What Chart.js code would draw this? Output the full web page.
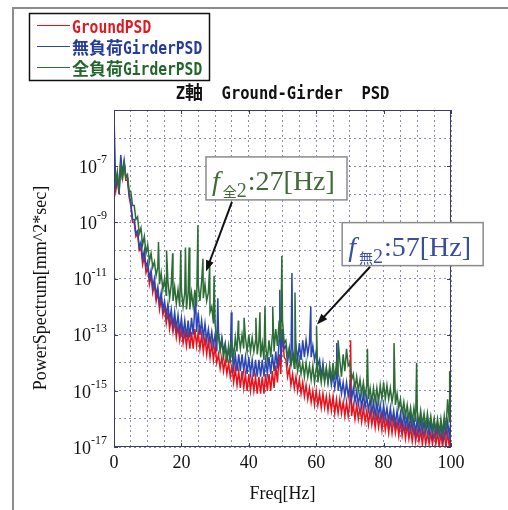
<!DOCTYPE html>
<html>
<head>
<meta charset="utf-8">
<script src="https://cdn.jsdelivr.net/npm/chart.js@4.4.1/dist/chart.umd.min.js"></script>
<style>
    html, body { margin: 0; padding: 0; background: #fff; }
    #psd { display: block; }
</style>
</head>
<body>
<canvas id="psd" width="508" height="510"></canvas>
<script>
// sample frequencies [Hz], one per Hz
const freqHz = Array.from({length: 101}, (_, i) => i);

// band envelopes, as log10 of PSD (hi at f, lo at f+0.5)
const groundHi = [
    -7.5, -7.4, -6.8, -6.9, -7.5, -8.4, -9.0, -9.4, -9.9, -10.2,
    -10.6, -10.9, -11.2, -11.5, -11.7, -12.0, -12.2, -12.4, -12.5, -12.7,
    -12.8, -12.9, -12.9, -12.9, -12.8, -12.9, -13.0, -13.1, -13.2, -13.3,
    -13.4, -13.7, -13.8, -13.9, -14.0, -14.1, -14.2, -14.3, -14.3, -14.4,
    -14.4, -14.5, -14.5, -14.5, -14.5, -14.4, -14.4, -14.3, -14.1, -13.7,
    -13.0, -13.9, -14.2, -14.4, -14.5, -14.6, -14.7, -14.8, -14.9, -15.0,
    -15.0, -15.1, -15.1, -15.2, -15.2, -15.2, -15.3, -15.3, -15.4, -15.4,
    -15.4, -15.5, -15.5, -15.6, -15.6, -15.7, -15.7, -15.8, -15.8, -15.9,
    -15.9, -16.0, -16.0, -16.0, -16.1, -16.1, -16.2, -16.2, -16.3, -16.3,
    -16.4, -16.4, -16.4, -16.5, -16.5, -16.5, -16.5, -16.5, -16.5, -16.5, -16.5
];
const groundLo = [
    -7.9, -8.0, -7.4, -7.5, -8.1, -9.0, -9.5, -10.0, -10.5, -10.8,
    -11.2, -11.5, -11.8, -12.1, -12.3, -12.6, -12.8, -12.9, -13.1, -13.2,
    -13.3, -13.4, -13.5, -13.5, -13.4, -13.5, -13.6, -13.7, -13.8, -13.9,
    -14.0, -14.2, -14.3, -14.4, -14.5, -14.7, -14.8, -14.9, -14.9, -15.0,
    -15.0, -15.0, -15.1, -15.1, -15.1, -15.0, -15.0, -14.9, -14.7, -14.4,
    -13.8, -14.5, -14.8, -14.9, -15.0, -15.1, -15.2, -15.3, -15.4, -15.5,
    -15.5, -15.6, -15.6, -15.7, -15.7, -15.8, -15.8, -15.8, -15.9, -15.9,
    -15.9, -16.0, -16.0, -16.1, -16.1, -16.2, -16.2, -16.3, -16.3, -16.4,
    -16.4, -16.5, -16.5, -16.5, -16.6, -16.6, -16.7, -16.7, -16.8, -16.8,
    -16.8, -16.9, -16.9, -16.9, -16.9, -16.9, -17.0, -17.0, -17.0, -17.0
];
const unloadedHi = [
    -5.1, -7.3, -6.6, -6.8, -7.4, -8.3, -8.9, -9.3, -9.7, -10.0,
    -10.4, -10.7, -11.0, -11.3, -11.5, -11.8, -11.9, -12.1, -12.2, -12.3,
    -12.4, -12.5, -12.5, -12.4, -12.0, -12.2, -12.5, -12.6, -12.8, -12.9,
    -13.0, -12.9, -13.1, -13.3, -13.5, -13.6, -13.7, -13.7, -13.7, -13.8,
    -13.8, -13.9, -13.9, -13.9, -13.9, -13.9, -13.8, -13.7, -13.6, -13.2,
    -12.8, -13.4, -13.5, -13.5, -13.4, -13.3, -13.2, -13.2, -13.3, -13.4,
    -13.6, -13.9, -14.0, -14.2, -14.3, -14.4, -14.5, -14.6, -14.7, -14.7,
    -14.8, -14.9, -15.0, -15.1, -15.1, -15.2, -15.3, -15.4, -15.4, -15.5,
    -15.5, -15.6, -15.6, -15.7, -15.7, -15.8, -15.8, -15.9, -15.9, -16.0,
    -16.0, -16.0, -16.1, -16.1, -16.1, -16.1, -16.2, -16.2, -16.1, -16.1, -16.0
];
const unloadedLo = [
    -7.8, -8.0, -7.3, -7.4, -8.0, -8.9, -9.4, -9.9, -10.3, -10.6,
    -11.0, -11.3, -11.6, -11.9, -12.1, -12.3, -12.5, -12.7, -12.8, -12.9,
    -13.0, -13.1, -13.1, -13.0, -12.9, -13.0, -13.1, -13.2, -13.3, -13.4,
    -13.6, -13.5, -13.6, -13.8, -14.0, -14.2, -14.3, -14.3, -14.3, -14.4,
    -14.4, -14.5, -14.5, -14.5, -14.5, -14.4, -14.4, -14.3, -14.2, -13.9,
    -13.5, -14.0, -14.1, -14.0, -13.9, -13.9, -13.8, -13.7, -13.8, -13.9,
    -14.1, -14.5, -14.6, -14.7, -14.8, -14.9, -15.0, -15.1, -15.2, -15.2,
    -15.3, -15.4, -15.5, -15.6, -15.6, -15.7, -15.8, -15.9, -15.9, -16.0,
    -16.0, -16.1, -16.1, -16.2, -16.2, -16.3, -16.3, -16.4, -16.4, -16.5,
    -16.5, -16.5, -16.5, -16.6, -16.6, -16.6, -16.6, -16.7, -16.6, -16.6
];
const loadedHi = [
    -7.0, -7.2, -6.9, -6.8, -7.3, -7.9, -8.4, -8.8, -9.2, -9.5,
    -9.8, -10.1, -10.4, -10.6, -10.8, -11.0, -11.1, -11.2, -11.3, -11.4,
    -11.4, -11.5, -11.5, -11.5, -11.4, -11.2, -11.1, -11.2, -11.5, -12.0,
    -12.6, -13.0, -13.2, -13.4, -13.4, -13.3, -13.1, -13.0, -13.0, -13.1,
    -13.0, -13.1, -13.2, -13.2, -13.3, -13.4, -13.2, -13.0, -12.8, -12.5,
    -12.5, -13.2, -13.5, -13.7, -13.8, -13.9, -14.0, -14.0, -14.1, -14.1,
    -14.2, -14.2, -14.2, -14.2, -14.1, -14.0, -14.0, -13.9, -13.7, -13.5,
    -14.0, -14.4, -14.5, -14.6, -14.7, -14.8, -14.9, -14.9, -14.9, -14.8,
    -14.7, -14.8, -14.9, -15.0, -15.1, -15.3, -15.4, -15.5, -15.6, -15.6,
    -15.7, -15.7, -15.8, -15.8, -15.9, -16.0, -16.0, -16.0, -15.9, -15.3, -14.8
];
const loadedLo = [
    -7.6, -7.9, -7.5, -7.4, -7.9, -8.4, -8.9, -9.4, -9.8, -10.1,
    -10.4, -10.6, -10.9, -11.2, -11.4, -11.6, -11.7, -11.8, -11.9, -12.0,
    -12.0, -12.1, -12.1, -12.0, -12.0, -11.8, -11.7, -11.8, -12.2, -12.6,
    -13.2, -13.6, -13.8, -14.0, -13.9, -13.8, -13.6, -13.5, -13.5, -13.6,
    -13.6, -13.6, -13.7, -13.8, -13.9, -13.9, -13.8, -13.6, -13.4, -13.2,
    -13.3, -13.8, -14.1, -14.2, -14.3, -14.4, -14.5, -14.5, -14.6, -14.7,
    -14.7, -14.7, -14.7, -14.7, -14.6, -14.6, -14.5, -14.5, -14.3, -14.1,
    -14.6, -14.9, -15.0, -15.1, -15.2, -15.3, -15.4, -15.4, -15.4, -15.3,
    -15.3, -15.3, -15.4, -15.5, -15.6, -15.8, -15.9, -16.0, -16.1, -16.1,
    -16.2, -16.2, -16.3, -16.3, -16.4, -16.4, -16.5, -16.5, -16.4, -16.1
];

// narrow peaks [Hz, log10 PSD]
const groundSpikes = [[49.9, -12.8], [70.2, -13.2]];
const unloadedSpikes = [
    [24.2, -11.7], [30.8, -11.7], [34.8, -12.2], [49.2, -11.4], [52.8, -10.8],
    [58.4, -12.0], [66.1, -13.3]
];
const loadedSpikes = [
    [13.2, -9.7], [15.6, -10.0], [17.4, -10.1], [19.8, -10.0], [21.2, -9.9],
    [22.3, -9.9], [24.9, -9.1], [26.4, -10.3], [28.4, -10.5], [29.7, -10.9],
    [36.9, -12.5], [38.6, -12.4], [42.1, -12.4], [43.3, -12.2], [44.8, -12.0],
    [47.1, -12.0], [49.8, -10.2], [53.7, -11.5], [60.1, -12.7], [66.5, -13.2],
    [75.2, -13.5], [83.1, -13.3], [89.8, -14.0], [99.6, -14.3]
];

const xTickLabels = [0, 20, 40, 60, 80, 100];
const yTickExps = [-7, -9, -11, -13, -15, -17];

function band(hi, lo, spikes) {
    const pts = [];
    freqHz.forEach((f, i) => {
        pts.push({x: f, y: Math.pow(10, hi[i])});
        if (i < lo.length) pts.push({x: f + 0.5, y: Math.pow(10, lo[i])});
    });
    spikes.forEach(s => pts.push({x: s[0], y: Math.pow(10, s[1])}));
    return pts.sort((a, b) => a.x - b.x);
}

const RED = '#e8121c', BLUE = '#2a46b2', GREEN = '#2c6d36';

// text boxes with arrows, placed in data coordinates
const notes = [
    {sym: '全', val: ':27[Hz]', color: '#3f6c36', box: [27.3, -6.67], tail: [35.0, -8.27], tip: [27.3, -10.75]},
    {sym: '無', val: ':57[Hz]', color: '#3a4d9e', box: [67.7, -9.01], tail: [76.0, -10.58], tip: [60.2, -12.64]}
];

// MS Gothic-ish text: narrow latin, full-width CJK
function gothic(ctx, text, x, y, size, color, draw) {
    let cx = x;
    const runs = text.match(/[\x00-\x7f]+|[^\x00-\x7f]+/g);
    ctx.fillStyle = color;
    ctx.textBaseline = 'alphabetic';
    ctx.textAlign = 'left';
    runs.forEach(r => {
        if (/^[\x00-\x7f]/.test(r)) {
            ctx.font = 'bold ' + size + 'px "DejaVu Sans Mono"';
            const w = ctx.measureText(r).width * 0.86;
            if (draw) {
                ctx.save();
                ctx.translate(cx, y);
                ctx.scale(0.86, 1);
                ctx.fillText(r, 0, 0);
                ctx.restore();
            }
            cx += w;
        } else {
            ctx.font = 'bold ' + size + 'px "Noto Sans CJK JP"';
            if (draw) ctx.fillText(r, cx, y);
            cx += ctx.measureText(r).width;
        }
    });
    return cx - x;
}

const decor = {
    id: 'decor',
    afterDraw(chart) {
        const ctx = chart.ctx, a = chart.chartArea, xs = chart.scales.x, ys = chart.scales.y;
        ctx.save();

        // outer picture frame
        ctx.strokeStyle = '#8c8c8c';
        ctx.lineWidth = 2;
        ctx.beginPath();
        ctx.moveTo(13, 510); ctx.lineTo(13, 8); ctx.lineTo(508, 8);
        ctx.stroke();

        // plot frame + inward ticks
        ctx.strokeStyle = '#3b3b6b';
        ctx.lineWidth = 1;
        ctx.strokeRect(a.left + 0.5, a.top + 0.5, a.right - a.left - 1, a.bottom - a.top - 1);
        ctx.beginPath();
        xTickLabels.forEach(v => {
            const px = Math.round(xs.getPixelForValue(v)) + 0.5;
            ctx.moveTo(px, a.bottom); ctx.lineTo(px, a.bottom - 4);
            ctx.moveTo(px, a.top); ctx.lineTo(px, a.top + 4);
        });
        yTickExps.forEach(e => {
            const py = Math.round(ys.getPixelForValue(Math.pow(10, e))) + 0.5;
            ctx.moveTo(a.left, py); ctx.lineTo(a.left + 4, py);
            ctx.moveTo(a.right, py); ctx.lineTo(a.right - 4, py);
        });
        ctx.stroke();

        // tick labels
        ctx.fillStyle = '#111';
        ctx.font = '18px "Liberation Serif"';
        ctx.textAlign = 'center';
        ctx.textBaseline = 'middle';
        xTickLabels.forEach(v => ctx.fillText(String(v), xs.getPixelForValue(v), a.bottom + 16));
        yTickExps.forEach(e => {
            const py = ys.getPixelForValue(Math.pow(10, e));
            ctx.font = '12px "Liberation Serif"';
            const ew = ctx.measureText(String(e)).width;
            ctx.textAlign = 'right';
            ctx.textBaseline = 'alphabetic';
            ctx.fillText(String(e), a.left - 7, py - 3);
            ctx.font = '18px "Liberation Serif"';
            ctx.textBaseline = 'middle';
            ctx.fillText('10', a.left - 7 - ew, py + 2);
        });

        // axis titles
        ctx.textAlign = 'center';
        ctx.textBaseline = 'middle';
        ctx.font = '18px "Liberation Serif"';
        ctx.fillText('Freq[Hz]', (a.left + a.right) / 2, 494);
        ctx.save();
        ctx.translate(41, 288);
        ctx.rotate(-Math.PI / 2);
        ctx.fillText('PowerSpectrum[mm^2*sec]', 0, 0);
        ctx.restore();

        // title
        const title = 'Z軸  Ground-Girder  PSD';
        const tw = gothic(ctx, title, 0, 0, 18, '#111', false);
        gothic(ctx, title, (a.left + a.right) / 2 - tw / 2, 99, 18, '#111', true);

        // legend
        ctx.fillStyle = '#fff';
        ctx.fillRect(29, 13, 180, 67);
        ctx.strokeStyle = '#111';
        ctx.lineWidth = 1.5;
        ctx.strokeRect(29.5, 13.5, 180, 67);
        chart.data.datasets.forEach((ds, i) => {
            const ly = 25 + i * 21;
            ctx.strokeStyle = ds.borderColor;
            ctx.lineWidth = 1;
            ctx.beginPath();
            ctx.moveTo(37, ly + 0.5); ctx.lineTo(70, ly + 0.5);
            ctx.stroke();
            gothic(ctx, ds.label, 72, ly + 8, 17, ds.textColor, true);
        });

        // annotations
        notes.forEach(n => {
            const bx = xs.getPixelForValue(n.box[0]), by = ys.getPixelForValue(Math.pow(10, n.box[1]));
            const tx = xs.getPixelForValue(n.tail[0]), ty = ys.getPixelForValue(Math.pow(10, n.tail[1]));
            const hx = xs.getPixelForValue(n.tip[0]), hy = ys.getPixelForValue(Math.pow(10, n.tip[1]));
            // arrow
            ctx.strokeStyle = '#111';
            ctx.fillStyle = '#111';
            ctx.lineWidth = 2;
            const ang = Math.atan2(hy - ty, hx - tx);
            ctx.beginPath();
            ctx.moveTo(tx, ty);
            ctx.lineTo(hx - 8 * Math.cos(ang), hy - 8 * Math.sin(ang));
            ctx.stroke();
            ctx.beginPath();
            ctx.moveTo(hx, hy);
            ctx.lineTo(hx - 11 * Math.cos(ang) + 4 * Math.sin(ang), hy - 11 * Math.sin(ang) - 4 * Math.cos(ang));
            ctx.lineTo(hx - 11 * Math.cos(ang) - 4 * Math.sin(ang), hy - 11 * Math.sin(ang) + 4 * Math.cos(ang));
            ctx.closePath();
            ctx.fill();
            // box
            ctx.fillStyle = '#fff';
            ctx.fillRect(bx, by, 141, 43);
            ctx.strokeStyle = '#8a8a8a';
            ctx.lineWidth = 1.5;
            ctx.strokeRect(bx, by, 141, 43);
            // text
            ctx.fillStyle = n.color;
            ctx.textAlign = 'left';
            ctx.textBaseline = 'alphabetic';
            let cx = bx + 6;
            ctx.font = 'italic 28px "Liberation Serif"';
            ctx.fillText('f', cx, by + 33);
            cx += ctx.measureText('f').width + 3;
            ctx.font = '14px "Noto Sans CJK JP"';
            ctx.fillText(n.sym, cx, by + 40);
            cx += ctx.measureText(n.sym).width;
            ctx.font = '20px "Liberation Serif"';
            ctx.fillText('2', cx, by + 40);
            cx += ctx.measureText('2').width + 1;
            ctx.font = '28px "Liberation Serif"';
            ctx.fillText(n.val, cx, by + 33);
        });

        ctx.restore();
    }
};

const gridOpts = {color: 'rgba(80,80,130,0.65)', lineWidth: 1, drawTicks: false, tickLength: 0};

new Chart(document.getElementById('psd'), {
    type: 'line',
    data: {
        datasets: [
            {label: 'GroundPSD', data: band(groundHi, groundLo, groundSpikes), borderColor: RED, textColor: '#e01a22', order: 3},
            {label: '無負荷GirderPSD', data: band(unloadedHi, unloadedLo, unloadedSpikes), borderColor: BLUE, textColor: '#243a9c', order: 2},
            {label: '全負荷GirderPSD', data: band(loadedHi, loadedLo, loadedSpikes), borderColor: GREEN, textColor: '#22662c', order: 1}
        ]
    },
    options: {
        responsive: false,
        animation: false,
        events: [],
        layout: {padding: {left: 114, top: 110, right: 57, bottom: 63}},
        elements: {
            line: {borderWidth: 1.5, tension: 0},
            point: {radius: 0}
        },
        scales: {
            x: {
                type: 'linear', min: 0, max: 100,
                afterBuildTicks: s => { s.ticks = freqHz.filter(f => f % 5 === 0).map(v => ({value: v})); },
                ticks: {display: false},
                grid: gridOpts,
                border: {display: false, dash: [2, 3]}
            },
            y: {
                type: 'logarithmic', min: 1e-17, max: 1e-5,
                afterBuildTicks: s => {
                    const t = [];
                    for (let e = -17; e <= -5; e++) t.push({value: Math.pow(10, e)});
                    s.ticks = t;
                },
                ticks: {display: false},
                grid: gridOpts,
                border: {display: false, dash: [2, 3]}
            }
        },
        plugins: {
            legend: {display: false},
            tooltip: {enabled: false},
            title: {display: false}
        }
    },
    plugins: [decor]
});
</script>
</body>
</html>
